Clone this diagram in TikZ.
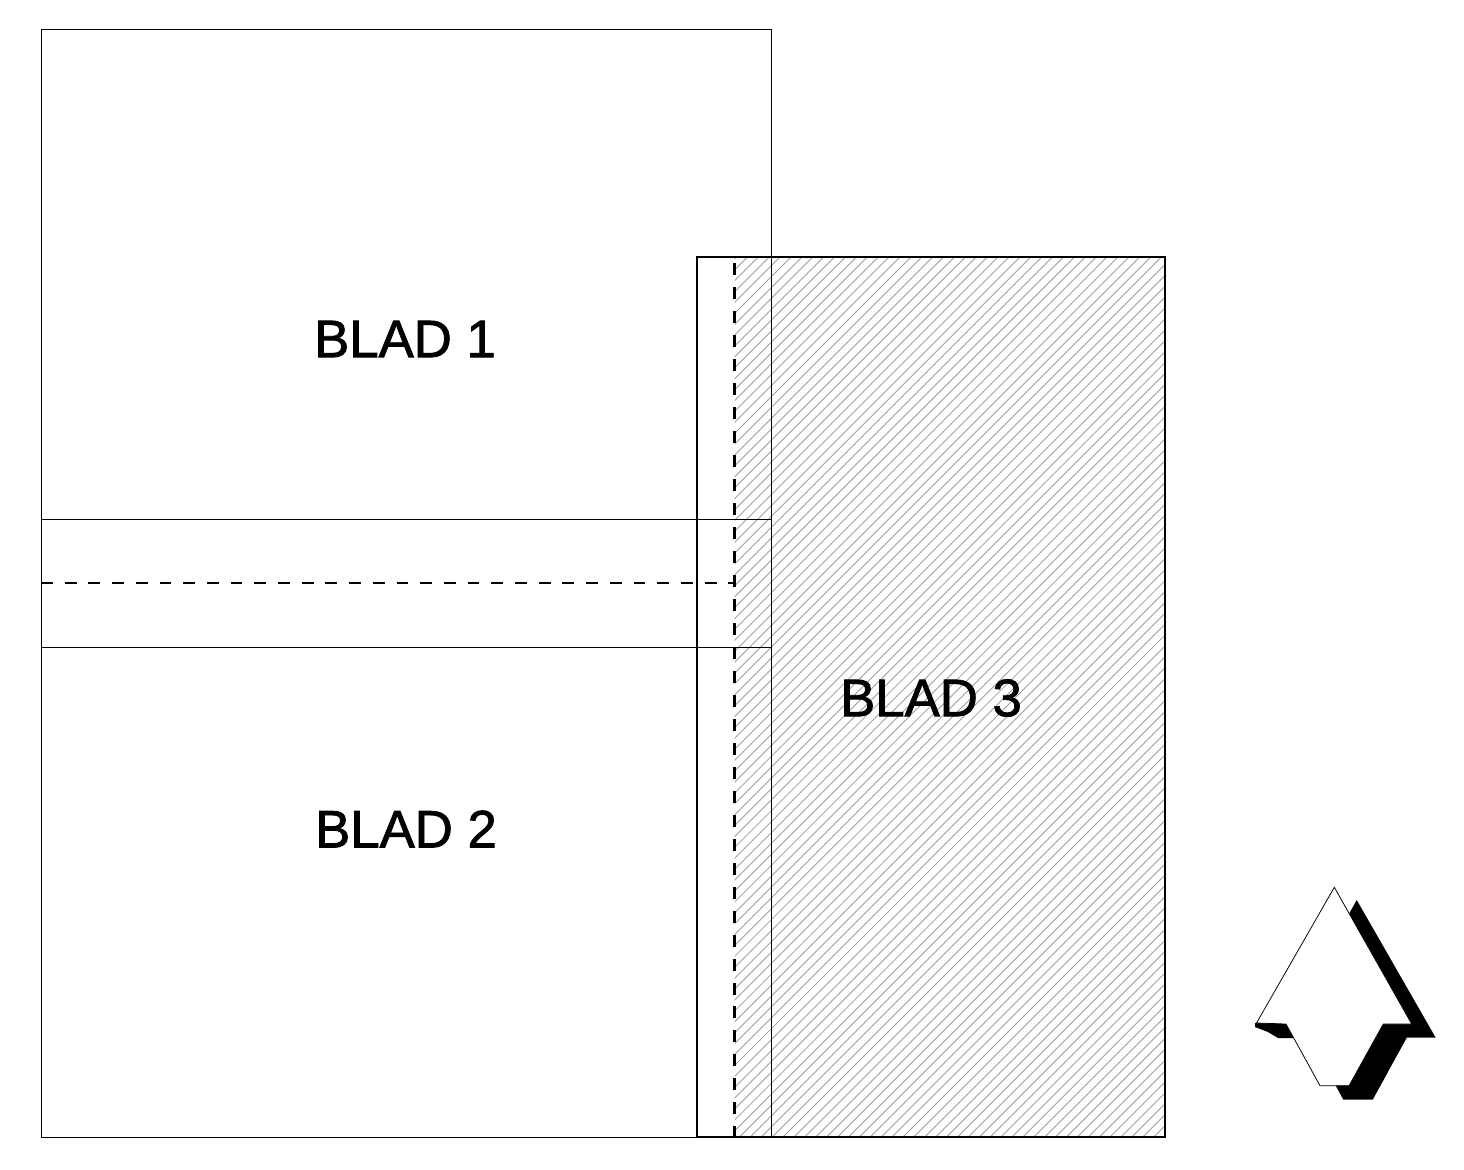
\documentclass[tikz,border=0pt]{standalone}
\usepackage{fontspec}
\setmainfont{Liberation Sans}
\newfontfamily\bladfont[FakeBold=1.5]{Liberation Sans}
\begin{document}
\begin{tikzpicture}[
        x=.01cm, y=-.01cm,
        sheet/.style={
          draw, line width=.22pt
        },
        cover/.style={
          draw, line width=.7pt
        },
        hatchline/.style={
          draw=black!38, line width=.25pt
        },
        foldline/.style={
          line width=.58pt, dash pattern=on 3.41pt off 3.41pt
        },
        bladlabel/.style={
          align=center, inner sep=0pt, font=\bladfont\fontsize{15}{16}\selectfont
        },
      ]
        \useasboundingbox (0,0) rectangle (1464,1170);

        % Hatching of the third sheet
        \begin{scope}
          \clip (734.5,257) rectangle (1165,1137);
          \foreach \hatchx in {-154.4,-143.5,...,1170} {
            \draw [hatchline] (\hatchx,1137) -- ++(880,-880);
          }
        \end{scope}

        % Sheets
        \draw [sheet] (41,29) rectangle (771,1137);
        \draw [sheet] (41,519.5) -- (771,519.5);
        \draw [sheet] (41,647) -- (771,647);
        \draw [cover] (697,257) rectangle (1165,1137);

        % Fold lines
        \draw [foldline] (734.5,263) -- (734.5,1137);
        \draw [foldline, line width=.35pt, dash pattern=on 3.37pt off 3.37pt] (41,583) -- (734.5,583);

        % Labels
        \node [bladlabel] (blad1) at (405,339) {BLAD 1};
        \node [bladlabel] (blad2) at (406,829) {BLAD 2};
        \node [bladlabel] (blad3) at (931,698) {BLAD 3};

        % North arrow with shadow
        \fill (1356.7,900) -- (1435.7,1037.7) -- (1406.7,1037.7) -- (1372.7,1099.7)
          -- (1343.3,1099.7) -- (1330,1075) -- (1340,930) -- cycle;
        \fill (1255,1023) -- (1287,1023) -- (1294,1038) -- (1278,1038) -- (1268,1032) -- (1255,1027) -- cycle;
        \draw [sheet, fill=white] (1334.3,887.3) -- (1411.7,1024) -- (1383.3,1024) -- (1349,1085.7)
          -- (1320,1085.7) -- (1286,1024) -- (1256.5,1023) -- cycle;
      \end{tikzpicture}
\end{document}
